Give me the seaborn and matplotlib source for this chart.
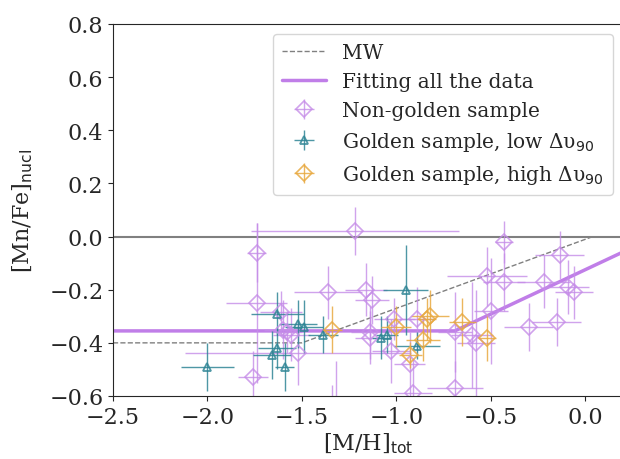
import numpy as np
import matplotlib
matplotlib.use("Agg")
import matplotlib.pyplot as plt
import seaborn as sns

# ---- data
# non-golden sample
ng_x = [-1.22, -1.74, -1.74, -0.43, -0.135, -0.52, -0.43, -0.22, -0.09, -0.06,
        -1.36, -1.16, -1.13, -1.61, -0.50, -1.01, -0.89, -0.30, -0.15, -1.60,
        -1.58, -1.555, -1.14, -1.14, -0.69, -0.60, -0.58, -1.52, -1.03, -0.93,
        -1.76, -0.69, -0.91, -1.34, -1.32]
ng_y = [0.02, -0.06, -0.25, -0.02, -0.07, -0.15, -0.17, -0.17, -0.19, -0.21,
        -0.21, -0.20, -0.24, -0.285, -0.28, -0.31, -0.31, -0.34, -0.32, -0.35,
        -0.36, -0.37, -0.36, -0.38, -0.36, -0.37, -0.40, -0.44, -0.43, -0.48,
        -0.53, -0.57, -0.59, -0.72, -0.70]
ng_xerr = [0.55, 0.05, 0.16, 0.05, 0.13, 0.21, 0.11, 0.14, 0.11, 0.10,
           0.18, 0.11, 0.09, 0.11, 0.09, 0.11, 0.09, 0.13, 0.13, 0.10,
           0.08, 0.10, 0.10, 0.08, 0.09, 0.11, 0.10, 0.60, 0.10, 0.08,
           0.08, 0.15, 0.10, 0.02, 0.02]
ng_yerr = [0.09, 0.11, 0.30, 0.08, 0.09, 0.11, 0.11, 0.10, 0.10, 0.10,
           0.10, 0.10, 0.09, 0.08, 0.20, 0.08, 0.12, 0.09, 0.09, 0.11,
           0.08, 0.10, 0.10, 0.10, 0.15, 0.20, 0.20, 0.12, 0.12, 0.12,
           0.10, 0.10, 0.13, 0.16, 0.23]

# golden sample, low dv90
gl_x = [-2.00, -1.63, -1.52, -1.49, -1.39, -1.63, -1.66, -1.59, -0.95, -1.08, -1.05, -0.89]
gl_y = [-0.49, -0.29, -0.33, -0.34, -0.37, -0.42, -0.445, -0.49, -0.20, -0.38, -0.37, -0.41]
gl_xerr = [0.14, 0.14, 0.10, 0.10, 0.08, 0.10, 0.10, 0.05, 0.12, 0.05, 0.06, 0.12]
gl_yerr = [0.09, 0.08, 0.09, 0.10, 0.07, 0.08, 0.09, 0.09, 0.17, 0.08, 0.07, 0.05]

# golden sample, high dv90
gh_x = [-1.34, -1.00, -0.82, -0.84, -0.65, -0.86, -0.52, -0.925]
gh_y = [-0.35, -0.34, -0.30, -0.31, -0.32, -0.39, -0.38, -0.445]
gh_xerr = [0.05, 0.08, 0.10, 0.05, 0.07, 0.09, 0.05, 0.06]
gh_yerr = [0.09, 0.08, 0.10, 0.08, 0.09, 0.08, 0.09, 0.05]

# MW trend and broken-line fit
mw_x = [-2.5, -1.5, 0.04]
mw_y = [-0.40, -0.40, 0.0]
fit_x = [-2.5, -0.69, 0.2]
fit_y = [-0.355, -0.355, -0.058]

c_ng = "#c58ce8"
c_fit = "#c07ee8"
c_gl = "#2f8595"
c_gh = "#e8a940"

sns.set_style("ticks")
plt.rcParams["font.family"] = ["DejaVu Serif"]
plt.rcParams["mathtext.fontset"] = "dejavusans"

fig = plt.figure(figsize=(6.2, 4.6), dpi=100)
ax = fig.add_axes([113 / 620, 63 / 460, 510 / 620, 372 / 460])

ax.axhline(0, color="gray", lw=1.5, zorder=1)
sns.lineplot(x=mw_x, y=mw_y, ax=ax, color="gray", lw=1, ls="--", label="MW", sort=False)
sns.lineplot(x=fit_x, y=fit_y, ax=ax, color=c_fit, lw=2.5, label="Fitting all the data", sort=False)

ax.errorbar(ng_x, ng_y, xerr=ng_xerr, yerr=ng_yerr, fmt="D", mfc="none", mec=c_ng,
            ms=8, mew=1.2, ecolor=c_ng, elinewidth=1, alpha=0.8, label="Non-golden sample")
ax.errorbar(gl_x, gl_y, xerr=gl_xerr, yerr=gl_yerr, fmt="^", mfc="none", mec=c_gl,
            ms=6, mew=1.3, ecolor=c_gl, elinewidth=1, alpha=0.85,
            label="Golden sample, low Δυ$_{90}$")
ax.errorbar(gh_x, gh_y, xerr=gh_xerr, yerr=gh_yerr, fmt="D", mfc="none", mec=c_gh,
            ms=8, mew=1.2, ecolor=c_gh, elinewidth=1, alpha=0.85,
            label="Golden sample, high Δυ$_{90}$")

ax.set_xlim(-2.5, 0.2)
ax.set_ylim(-0.6, 0.8)
ax.set_xticks([-2.5, -2.0, -1.5, -1.0, -0.5, 0.0])
ax.set_yticks(np.arange(-0.6, 0.81, 0.2))
ax.tick_params(labelsize=16)
ax.set_xlabel("[M/H]$_{\\rm tot}$", fontsize=16, labelpad=2)
ax.set_ylabel("[Mn/Fe]$_{\\rm nucl}$", fontsize=16, labelpad=10)
sns.despine(ax=ax, top=False, right=True)

ax.legend(loc="upper right", bbox_to_anchor=(0.98, 0.973), borderaxespad=0,
          fontsize=14.5, handlelength=2.2, labelspacing=0.5, borderpad=0.45)

fig.savefig("out.png", dpi=100)
